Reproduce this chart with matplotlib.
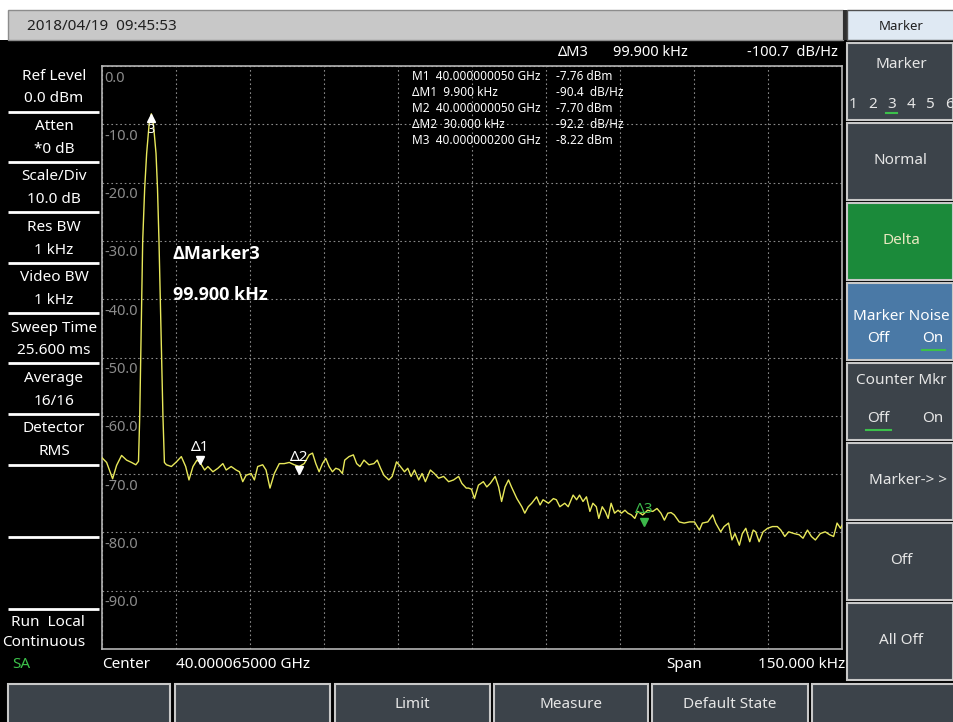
import matplotlib
matplotlib.use("Agg")
import matplotlib.pyplot as plt
from matplotlib.patches import Rectangle
from matplotlib.transforms import offset_copy, blended_transform_factory

plt.rcParams['font.family'] = ['Noto Sans', 'DejaVu Sans']

# ---------------- data ----------------
# frequency offset from 40 GHz (kHz) and trace level (dBm)
freq_khz = [
    -10.0, -9.06, -7.85, -7.04, -6.03, -5.02, -4.01, -3.14, -2.6,
    -2.35, -2.05, -1.75, -1.35, -0.95, -0.45, 0.0, 0.45, 0.95, 1.25, 1.55, 1.95, 2.35, 2.65,
    3.06, 4.07, 5.08, 6.08, 6.96, 7.63, 8.44, 9.25, 9.79, 10.8, 11.47, 12.48,
    13.49, 14.5, 15.17, 16.18, 17.19, 17.86, 18.53, 19.21, 20.22, 20.89, 21.56,
    22.57, 23.25, 24.05, 24.93, 25.94, 26.95, 27.96,
    28.97, 29.98, 30.99, 32.0, 32.67, 33.34, 34.01, 34.69, 35.36, 36.03, 36.71,
    37.38, 38.05, 38.73, 39.2, 40.07, 40.95, 41.62, 42.29, 43.1, 44.11, 45.12,
    45.79, 46.47, 47.14, 48.15, 48.82, 49.7, 50.5, 51.31, 51.98, 52.66, 53.33,
    54.2, 54.88, 55.55, 56.56, 57.37, 58.24, 59.25, 60.26, 61.27, 62.28, 62.95,
    63.83, 64.3, 64.9, 65.5, 66.3, 67.3, 68.0, 68.7, 69.7, 70.4, 71.0, 71.7,
    72.4, 73.0, 74.1, 75.1, 75.7, 76.4, 77.1, 78.1, 78.8, 79.4, 80.5, 81.5,
    82.1, 82.8, 83.8, 84.5, 85.5, 86.2, 86.8, 87.5, 88.2, 88.9, 89.5, 90.2,
    90.7, 91.4, 92.0, 92.6, 93.2, 93.9, 94.6, 95.3, 96.0, 96.6, 97.3, 98.0,
    98.6, 99.6, 100.6, 101.65, 102.5, 103.3, 104.0, 104.7, 105.35, 106.0, 107.0,
    108.0, 109.1, 110.1, 111.1, 111.7, 112.8, 113.8, 114.4, 115.4, 116.1, 117.0,
    117.7, 118.3, 119.2, 119.8, 120.5, 121.3, 122.0, 122.5, 123.2, 124.0, 124.9,
    125.9, 126.9, 127.6, 128.4, 129.2, 130.3, 131.3, 132.1, 133.0, 133.8, 134.6,
    135.6, 136.6, 137.5, 138.3, 139.0, 139.7, 140.0,
]
level_dbm = [
    -67.2, -68.0, -70.8, -68.5, -66.8, -67.6, -68.0, -68.4, -67.8,
    -60.0, -45.0, -30.0, -21.0, -15.0, -10.0, -8.2, -10.2, -15.0, -21.0, -30.0, -45.0, -60.0, -68.0,
    -68.4, -68.7, -67.9, -67.0, -68.7, -71.0, -68.7, -67.6, -67.9, -69.3, -68.7, -69.6,
    -69.0, -68.2, -69.3, -68.7, -69.3, -69.6, -71.3, -70.2, -69.9, -71.0, -68.7,
    -68.4, -69.3, -72.4, -69.9, -68.2, -68.2, -68.0,
    -68.4, -68.7, -68.2, -66.7, -66.4, -68.2, -69.6, -68.2, -67.3, -68.7, -69.6,
    -69.0, -69.2, -69.9, -67.6, -67.0, -66.7, -68.2, -68.7, -67.6, -68.4, -68.2,
    -67.6, -69.0, -70.2, -71.0, -70.4, -67.9, -68.7, -69.6, -69.0, -70.4, -69.3,
    -71.0, -69.9, -71.3, -69.3, -69.9, -70.7, -70.4, -71.3, -71.0, -70.4, -71.6,
    -72.4, -72.4, -72.6, -74.2, -71.9, -71.3, -72.2, -71.6, -70.4, -72.2, -74.7, -72.2,
    -71.0, -72.2, -74.2, -75.6, -76.7, -75.6, -75.0, -73.9, -75.3, -74.4, -75.0, -74.2,
    -74.4, -75.6, -75.0, -75.6, -73.6, -74.4, -73.6, -74.7, -73.9, -76.4, -75.0, -75.6,
    -77.6, -75.6, -76.4, -77.6, -75.0, -76.7, -76.2, -76.7, -76.2, -76.7, -77.0, -77.6,
    -76.4, -77.0, -76.2, -76.4, -75.9, -76.7, -77.9, -76.7, -76.6, -77.0, -78.2,
    -78.4, -78.2, -78.2, -79.6, -78.4, -78.2, -77.0, -78.4, -79.9, -79.0, -78.4,
    -81.3, -80.2, -82.2, -80.2, -79.3, -81.6, -79.6, -79.9, -81.6, -79.9, -79.3,
    -79.0, -79.0, -79.6, -80.7, -79.9, -80.2, -80.4, -81.0, -79.6, -80.7, -81.3,
    -80.2, -79.9, -80.4, -80.7, -78.4, -79.3, -78.8,
]

x_start_khz, x_stop_khz = -10.0, 140.0      # center 40.000065 GHz, span 150 kHz
ref_level, bottom_level = 0.0, -100.0
grid_levels = [0.0, -10.0, -20.0, -30.0, -40.0, -50.0, -60.0, -70.0, -80.0, -90.0]
ytick_labels = ["0.0", "-10.0", "-20.0", "-30.0", "-40.0", "-50.0", "-60.0", "-70.0", "-80.0", "-90.0"]
grid_freqs = [-10.0, 5.0, 20.0, 35.0, 50.0, 65.0, 80.0, 95.0, 110.0, 125.0, 140.0]

delta_names = ["Δ1", "Δ2", "Δ3"]
delta_freq = [9.9, 30.0, 99.9]
delta_level = [-68.2, -69.9, -78.9]
m3_freq, m3_level = 0.0, -8.22

table_labels = ["M1  40.000000050 GHz", "ΔM1  9.900 kHz", "M2  40.000000050 GHz",
                "ΔM2  30.000 kHz", "M3  40.000000200 GHz"]
table_values = ["-7.76 dBm", "-90.4  dB/Hz", "-7.70 dBm", "-92.2  dB/Hz", "-8.22 dBm"]

left_titles = ["Ref Level", "Atten", "Scale/Div", "Res BW", "Video BW", "Sweep Time", "Average", "Detector"]
left_values = ["0.0 dBm", "*0 dB", "10.0 dB", "1 kHz", "1 kHz", "25.600 ms", "16/16", "RMS"]

softkeys = ["Marker", "Normal", "Delta", "Marker Noise", "Counter Mkr", "Marker-> >", "Off", "All Off"]
bottom_keys = ["", "", "Limit", "Measure", "Default State", ""]

# ---------------- layout ----------------
W, H = 954, 722
fig = plt.figure(figsize=(W / 100, H / 100), dpi=100, facecolor="white")
ui = fig.add_axes([0, 0, 1, 1], zorder=0)
ui.set_xlim(0, W)
ui.set_ylim(H, 0)
ui.axis("off")

BTN = "#3c434a"
EDGE = "#c8c8c8"
TXT = "#e6e6e6"
GREEN = "#3cc04a"


def rect(x0, y0, x1, y1, fc, ec="none", lw=0, z=1):
    ui.add_patch(Rectangle((x0, y0), x1 - x0, y1 - y0, facecolor=fc, edgecolor=ec, linewidth=lw, zorder=z))


def txt(x, y, s, size=10, color=TXT, ha="center", weight="normal", on=None, family=None):
    kw = {}
    if family:
        kw["family"] = family
    (on or ui).text(x, y, s, fontsize=size, color=color, ha=ha, va="center", fontweight=weight, zorder=5, **kw)


# black screen
rect(0, 40, W, H, "black")
# date bar
rect(8, 10, 843, 40, "#c8c8c8", "#8c8c8c", 1)
txt(27, 26, "2018/04/19  09:45:53", 11, "#202020", ha="left")
rect(843, 10, 847, 40, "#303030")
# marker title
rect(847, 10, W, 40, "#dfe9f3", "#505050", 1)
txt(901, 26, "Marker", 9.5, "#202020")

# left parameter panel
for i, (t, v) in enumerate(zip(left_titles, left_values)):
    y1 = 76 + 50.4 * i
    txt(54, y1, t, 11, "white")
    txt(54, y1 + 23, v, 11, "white")
for ys in [112, 162, 212, 263, 313, 363, 414, 465, 537, 609]:
    ui.plot([8, 99], [ys, ys], color="white", lw=2, zorder=4, solid_capstyle="butt")
txt(11, 623, "Run  Local", 11, "white", ha="left")
txt(2, 643, "Continuous", 11, "white", ha="left")
txt(12, 665, "SA", 11, GREEN, ha="left")
txt(126, 665, "Center", 11, "white")
txt(176, 665, "40.000065000 GHz", 11, "white", ha="left")
txt(684, 665, "Span", 11, "white")
txt(845, 665, "150.000 kHz", 11, "white", ha="right")

# header of marker readout
txt(558, 53, "ΔM3", 10.5, "white", ha="left")
txt(613, 53, "99.900 kHz", 10.5, "white", ha="left")
txt(838, 53, "-100.7  dB/Hz", 10.5, "white", ha="right")

# right soft keys
faces = [BTN, BTN, "#1b8a3a", "#4a79a6", BTN, BTN, BTN, BTN]
for i, name in enumerate(softkeys):
    top = 43 + 80 * i
    rect(847, top, W - 1, top + 77, faces[i], EDGE, 1.5)
    if i == 0:
        txt(901, top + 21, name, 11)
        for j in range(6):
            txt(853 + 19.3 * j, top + 61, str(j + 1), 11)
        ui.plot([886, 897], [top + 70, top + 70], color=GREEN, lw=1.5, zorder=6)
    elif i == 3:
        txt(901, top + 33, name, 11, "white")
        txt(878, top + 56, "Off", 11, "white")
        txt(933, top + 56, "On", 11, "white")
        ui.plot([922, 945], [top + 67, top + 67], color=GREEN, lw=1.5, zorder=6)
    elif i == 4:
        txt(901, top + 17, name, 11)
        txt(878, top + 55, "Off", 11)
        txt(933, top + 55, "On", 11)
        ui.plot([866, 891], [top + 67, top + 67], color=GREEN, lw=1.5, zorder=6)
    else:
        col = "#e8e8c0" if i == 2 else TXT
        txt(901 if i != 5 else 908, top + 38, name, 11, col)

# bottom keys
bx = [(8, 170), (175, 330), (335, 490), (494, 648), (652, 808), (812, W + 2)]
for (x0, x1), name in zip(bx, bottom_keys):
    rect(x0, 684, x1, H + 4, BTN, EDGE, 1.5)
    if name:
        txt((x0 + x1) / 2, 704, name, 11)

# ---------------- spectrum plot ----------------
L, R, T, B = 102, 842, 66, 649
ax = fig.add_axes([L / W, 1 - B / H, (R - L) / W, (B - T) / H], zorder=3)
ax.set_facecolor("black")
ax.set_xlim(x_start_khz, x_stop_khz)
ax.set_ylim(bottom_level, ref_level)
ax.set_xticks(grid_freqs)
ax.set_yticks(grid_levels)
ax.tick_params(length=0, labelbottom=False, labelleft=False)
ax.grid(True, color="#8a8a8a", linestyle=(0, (1.5, 2.5)), linewidth=0.8)
for s in ax.spines.values():
    s.set_color("#b4b4b4")
    s.set_linewidth(1.2)

ax.plot(freq_khz, level_dbm, color="#e8e85a", lw=1.0, zorder=3)

# y labels inside the plot
bt = blended_transform_factory(ax.transAxes, ax.transData)
lab_tr = offset_copy(bt, fig=fig, x=2, y=-12, units="dots")
for lv, lab in zip(grid_levels, ytick_labels):
    ax.text(0.0, lv, lab, transform=lab_tr, fontsize=10.5, color="#8c8c8c", ha="left", va="center")

# delta markers
tri_tr = offset_copy(ax.transData, fig=fig, x=0, y=4, units="dots")
lab_tr2 = offset_copy(ax.transData, fig=fig, x=0, y=9, units="dots")
for name, f, lv in zip(delta_names, delta_freq, delta_level):
    c = "#3cb84a" if name == "Δ3" else "white"
    ax.plot([f], [lv], marker="v", ms=6, color=c, mec=c, transform=tri_tr, zorder=5)
    ax.text(f, lv, name, transform=lab_tr2, fontsize=11, color=c, ha="center", va="bottom", zorder=5)

# marker 3 at the peak
m_tr = offset_copy(ax.transData, fig=fig, x=0, y=-4, units="dots")
m_lab = offset_copy(ax.transData, fig=fig, x=0, y=-9, units="dots")
ax.plot([m3_freq], [m3_level], marker="^", ms=6, color="white", transform=m_tr, zorder=5)
ax.text(m3_freq, m3_level, "3", transform=m_lab, fontsize=9, color="white", ha="center", va="top", zorder=5)

# overlay for readouts drawn on top of the plot
ov = fig.add_axes([0, 0, 1, 1], zorder=10)
ov.set_xlim(0, W)
ov.set_ylim(H, 0)
ov.axis("off")
ov.patch.set_alpha(0)

for i, (a, b) in enumerate(zip(table_labels, table_values)):
    y = 77 + 15.8 * i
    txt(412, y, a, 8.5, "white", ha="left", on=ov)
    txt(556, y, b, 8.5, "white", ha="left", on=ov)

bold_fam = ["Open Sans", "DejaVu Sans"]
txt(173, 254, "ΔMarker3", 13, "white", ha="left", weight="bold", on=ov, family=bold_fam)
txt(173, 295, "99.900 kHz", 13, "white", ha="left", weight="bold", on=ov, family=bold_fam)

fig.savefig("out.png", dpi=100, facecolor=fig.get_facecolor())
